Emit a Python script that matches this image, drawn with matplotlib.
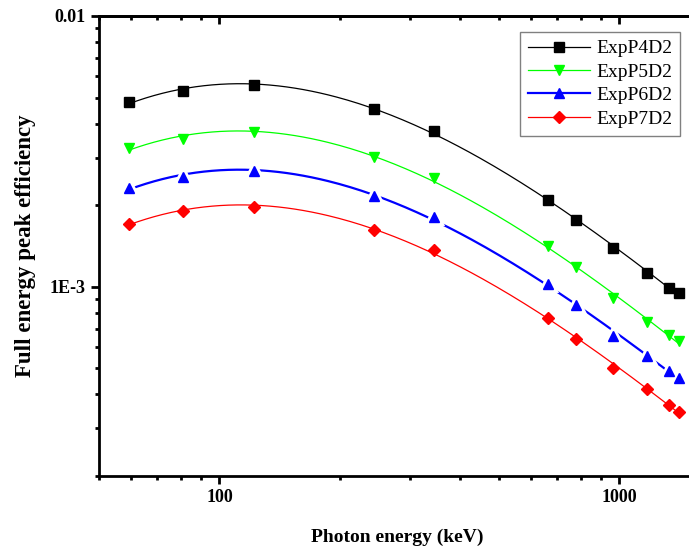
# Full energy peak efficiency vs photon energy for four detector positions

import numpy as np
from matplotlib import pyplot as plt
from matplotlib.ticker import FuncFormatter, LogLocator, NullFormatter

energy = [59.5, 81, 122, 244, 344, 662, 779, 964, 1173, 1332, 1408]
eff_p4 = [4.82e-3, 5.28e-3, 5.56e-3, 4.54e-3, 3.77e-3, 2.09e-3, 1.77e-3, 1.39e-3, 1.12e-3, 9.9e-4, 9.5e-4]
eff_p5 = [3.26e-3, 3.52e-3, 3.73e-3, 3.02e-3, 2.52e-3, 1.41e-3, 1.18e-3, 9.1e-4, 7.43e-4, 6.65e-4, 6.32e-4]
eff_p6 = [2.32e-3, 2.55e-3, 2.68e-3, 2.17e-3, 1.81e-3, 1.02e-3, 8.58e-4, 6.59e-4, 5.56e-4, 4.90e-4, 4.61e-4]
eff_p7 = [1.71e-3, 1.91e-3, 1.97e-3, 1.62e-3, 1.37e-3, 7.69e-4, 6.43e-4, 5.02e-4, 4.20e-4, 3.67e-4, 3.46e-4]
labels = ['ExpP4D2', 'ExpP5D2', 'ExpP6D2', 'ExpP7D2']

plt.rcParams['font.family'] = 'Liberation Serif'
fig = plt.figure(figsize=(6.89, 5.47), dpi=100)
ax = fig.add_axes([99 / 689, 1 - 476 / 547, 596 / 689, 460 / 547])

styles = [('black', 's', 0.9, 6.5), ('#00ff00', 'v', 0.9, 7.5), ('blue', '^', 1.6, 7.5), ('red', 'D', 0.9, 6)]
x = np.array(energy)
xs = np.logspace(np.log10(x[0]), np.log10(x[-1]), 200)
for eff, lab, (col, mk, lw, ms) in zip([eff_p4, eff_p5, eff_p6, eff_p7], labels, styles):
    # smooth fit in log-log space
    p = np.polyfit(np.log(x), np.log(eff), 3)
    ax.plot(xs, np.exp(np.polyval(p, np.log(xs))), color=col, lw=lw, zorder=2)
    if col == 'blue':
        # white halo gives the gap between line and symbol
        ax.plot(x, eff, ls='none', marker=mk, ms=ms, color='white', mec='white', mew=5, zorder=3)
    ax.plot(x, eff, ls='none', marker=mk, ms=ms, color=col, mec=col, zorder=4)
    ax.plot([], [], color=col, lw=lw, marker=mk, ms=ms, label=lab)

ax.set_xscale('log')
ax.set_yscale('log')
ax.set_xlim(50, 1545)
ax.set_ylim(2e-4, 0.01)

ax.xaxis.set_major_formatter(FuncFormatter(lambda v, pos: '%d' % v))
ax.xaxis.set_minor_formatter(NullFormatter())
ax.yaxis.set_major_locator(LogLocator(base=10, numticks=5))
ax.yaxis.set_major_formatter(FuncFormatter(lambda v, pos: '0.01' if v > 5e-3 else '1E-3'))
ax.yaxis.set_minor_formatter(NullFormatter())

for s in ax.spines.values():
    s.set_linewidth(2)
ax.tick_params(which='both', direction='out', width=2)
ax.tick_params(which='major', length=6, labelsize=13)
ax.tick_params(which='minor', length=3)
for lbl in ax.get_xticklabels() + ax.get_yticklabels():
    lbl.set_fontweight('bold')

# top axis: ticks pointing inward, no labels
top = ax.secondary_xaxis('top')
top.tick_params(which='both', direction='in', width=2, labeltop=False)
top.tick_params(which='major', length=6)
top.tick_params(which='minor', length=3)
top.spines['top'].set_linewidth(2)

ax.set_xlabel('Photon energy (keV)', fontsize=14, fontweight='bold', labelpad=16)
ax.set_ylabel('Full energy peak efficiency', fontsize=16.5, fontweight='bold', labelpad=10)

leg = ax.legend(loc='upper right', bbox_to_anchor=(581 / 596, 1 - 16 / 460), fontsize=14,
                fancybox=False, edgecolor='gray', framealpha=1, handlelength=3.2,
                borderpad=0.4, labelspacing=0.3, handletextpad=0.3, borderaxespad=0)
leg.get_frame().set_linewidth(1)

fig.savefig('out.png', dpi=100)
